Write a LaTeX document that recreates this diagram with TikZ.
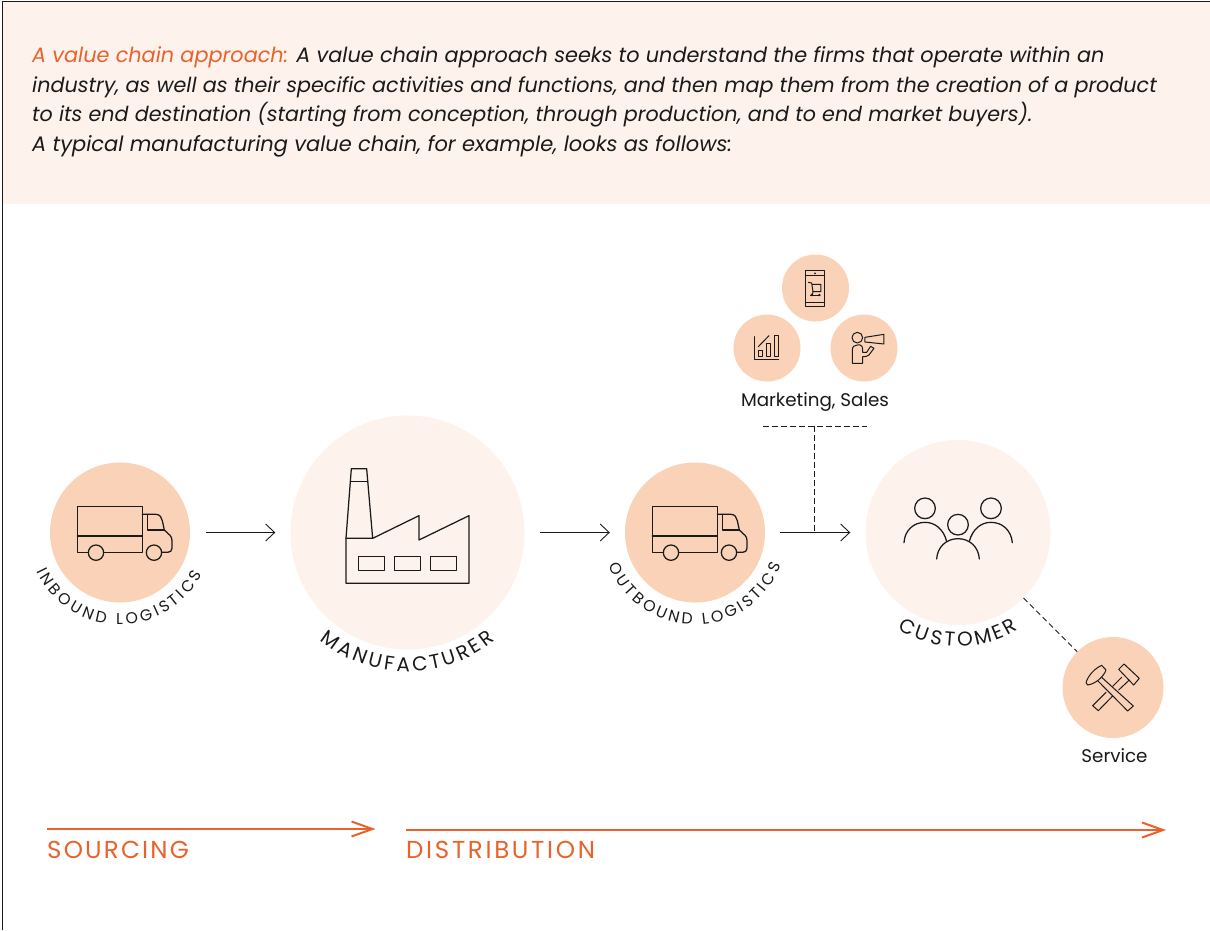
\documentclass[tikz,border=0pt]{standalone}
\usepackage{fontspec}
\setmainfont{Poppins}[Ligatures=NoCommon]
\usetikzlibrary{arrows.meta,decorations.text}
\definecolor{peach}{HTML}{F9D2B8}
\definecolor{pale}{HTML}{FDF2EC}
\definecolor{accent}{HTML}{E9622B}
\definecolor{ink}{HTML}{1A1A1A}
\newcommand{\curvelabel}[7]{%
  \path[decorate,decoration={text along path,text align={fit to path},text={|\fontsize{#6}{#6}\selectfont\color{ink}|#7}}]
    ({#1+#3*cos(#4)},{#2-#3*sin(#4)}) arc[start angle=#4,end angle=#5,radius=#3 pt];}
\tikzset{
  x=1pt,y=-1pt,
  bigdisc/.style={circle,fill=pale,draw=none,inner sep=0pt},
  smalldisc/.style={circle,fill=peach,draw=none,inner sep=0pt},
  icon/.style={draw=ink,line width=1.25pt,line join=round,line cap=round},
  thinicon/.style={draw=ink,line width=1pt,line join=round,line cap=round},
  flow/.style={draw=ink,line width=0.9pt,-{Straight Barb[length=9pt,width=17pt,line width=0.9pt]}},
  link/.style={draw=ink,line width=1pt,dash pattern=on 5.5pt off 3.5pt},
  bigflow/.style={draw=accent,line width=2pt,-{Straight Barb[length=21pt,width=15pt,line width=2pt]}},
  head/.style={anchor=base west,inner sep=0pt,text=ink},
  tag/.style={anchor=base,inner sep=0pt,font=\fontsize{18.3}{22}\selectfont,text=ink},
  phase/.style={anchor=base west,inner sep=0pt,text=accent},
  truckicon/.pic={
    \draw[icon] (175,307) -- (142,307) -- (142,170) -- (337,170) -- (337,307) -- (221,307);
    \draw[icon] (142,258) -- (337,258);
    \draw[icon] (198,308) circle[radius=23];
    \draw[icon] (372,308) circle[radius=23];
    \draw[icon] (337,193) -- (378,193) .. controls (390,193) and (395,203) .. (397,212) -- (403,240) -- (420,256) .. controls (424,260) and (426,265) .. (426,272) -- (426,295) .. controls (426,303) and (420,307) .. (413,307) -- (395,307);
    \draw[icon] (353,193) -- (353,240) -- (403,240);
  }
}
\begin{document}
\begin{tikzpicture}
\useasboundingbox (0,0) rectangle (1210,930);
\fill[white] (0,0) rectangle (1210,930);
\fill[pale] (3,2) rectangle (1210,204);
\draw[ink,line width=1pt] (2,930) -- (2,1) -- (1210,1);

% header
\node[head,font=\fontsize{20.82}{26}\selectfont\itshape] (l1) at (32,62.5) {\textcolor{accent}{A value chain approach:} A value chain approach seeks to understand the firms that operate within an};
\node[head,font=\fontsize{20.69}{26}\selectfont\itshape] (l2) at (32,92) {industry, as well as their specific activities and functions, and then map them from the creation of a product};
\node[head,font=\fontsize{20.67}{26}\selectfont\itshape] (l3) at (32,121.5) {to its end destination (starting from conception, through production, and to end market buyers).};
\node[head,font=\fontsize{21}{26}\selectfont\itshape] (l4) at (32,151) {A typical manufacturing value chain, for example, looks as follows:};

% discs
\node[smalldisc,minimum size=140pt] (inb) at (120,532.5) {};
\node[bigdisc,minimum size=234pt] (mfg) at (407.5,532.5) {};
\node[smalldisc,minimum size=140pt] (outb) at (695,532.5) {};
\node[bigdisc,minimum size=185pt] (cust) at (958,532.5) {};
\node[smalldisc,minimum size=67pt] (shop) at (815.5,288) {};
\node[smalldisc,minimum size=67pt] (chart) at (767,348) {};
\node[smalldisc,minimum size=67pt] (promo) at (864,348) {};
\node[smalldisc,minimum size=101pt] (serv) at (1113,687.5) {};

% connectors
\draw[flow,shorten <=16pt,shorten >=15pt] (inb) -- (mfg);
\draw[flow,shorten <=15pt,shorten >=15pt] (mfg) -- (outb);
\coordinate (jn) at (814.5,532.5);
\draw[flow,shorten <=15pt,shorten >=15pt] (outb) -- (cust);
\coordinate (ml) at (763,426);
\coordinate (mr) at (867,426);
\coordinate (mc) at (814.5,426);
\draw[link] (ml) -- (mr);
\draw[link] (mc) -- (jn);
\draw[link] (cust) -- (serv);

% trucks
\pic[shift={(30,450)},scale=0.3333] {truckicon};
\pic[shift={(605,450)},scale=0.3333] {truckicon};

% factory
\begin{scope}[shift={(290,450)},scale=0.3333]
\draw[icon] (168,265) -- (184,56) -- (230,56) -- (248,265);
\draw[icon] (182,95) -- (233,95);
\draw[icon] (168,265) -- (248,265) -- (387,197) -- (387,270) -- (537,197) -- (537,400) -- (168,400) -- cycle;
\draw[icon] (205,320) rectangle (283,362);
\draw[icon] (313,320) rectangle (392,362);
\draw[icon] (422,320) rectangle (500,362);
\end{scope}

% customers
\begin{scope}[shift={(880,480)},scale=0.3333]
\draw[icon] (135,85) circle[radius=31];
\draw[icon] (333,85) circle[radius=31];
\draw[icon] (234,134) circle[radius=31];
\draw[icon] (72,188) .. controls (74,152) and (100,127) .. (135,127) .. controls (165,127) and (190,147) .. (200,184);
\draw[icon] (268,184) .. controls (278,147) and (303,127) .. (333,127) .. controls (368,127) and (394,152) .. (397,188);
\draw[icon] (170,237) .. controls (172,201) and (199,176) .. (234,176) .. controls (269,176) and (296,201) .. (298,237);
\end{scope}

% marketing icons
\begin{scope}[shift={(720,245)},scale=0.3333]
\draw[thinicon] (256,77) rectangle (314,185);
\draw[thinicon] (256,92) -- (314,92);
\draw[thinicon] (256,173) -- (314,173);
\fill[ink] (285,85) circle[radius=3];
\draw[thinicon] (265,112) -- (275,114) -- (279,140) -- (303,140) -- (303,118) -- (276,118);
\draw[thinicon] (279,140) -- (277,150);
\fill[ink] (275,150) circle[radius=4];
\fill[ink] (298,150) circle[radius=4];
\draw[thinicon] (272,150) -- (300,150);
\draw[thinicon] (103,275) -- (103,345) -- (176,345);
\draw[thinicon] (115,318) rectangle (127,335);
\draw[thinicon] (140,295) rectangle (152,335);
\draw[thinicon] (164,273) rectangle (176,335);
\draw[thinicon] (115,305) -- (147,272);
\draw[thinicon] (412,278) circle[radius=16];
\draw[thinicon] (428,355) -- (397,355) -- (397,315) .. controls (397,305) and (403,300) .. (412,300) -- (420,300) .. controls (425,300) and (428,306) .. (428,312) -- (428,322) -- (440,322) -- (452,304) -- (462,310) -- (447,330) .. controls (442,335) and (435,335) .. (428,335) -- cycle;
\draw[thinicon] (435,277) -- (492,268) -- (492,297) -- (435,291) -- cycle;
\end{scope}

% hammers
\begin{scope}[shift={(1020,590)},scale=0.3333]
\draw[thinicon] (245,262) -- (340,348) -- (323,363) -- (233,272);
\draw[thinicon] (198,278) .. controls (205,255) and (225,235) .. (245,226) -- (258,240) .. controls (250,262) and (225,282) .. (203,285) -- cycle;
\draw[thinicon] (305,262) -- (278,289);
\draw[thinicon] (258,307) -- (218,347) -- (235,362) -- (278,318);
\draw[thinicon] (296,300) -- (328,270);
\draw[thinicon] (296,238) -- (312,222) -- (358,265) -- (341,285) -- cycle;
\end{scope}

% curved labels
\curvelabel{120}{532.5}{92}{205}{333}{15.8}{INBOUND LOGISTICS}
\curvelabel{407.5}{532.5}{139}{231}{309}{20}{MANUFACTURER}
\curvelabel{695}{532.5}{92}{201}{339}{15.8}{OUTBOUND LOGISTICS}
\curvelabel{958}{532.5}{114}{238}{302}{20}{CUSTOMER}

% tags
\node[tag] (mtag) at (815,406) {Marketing, Sales};
\node[tag] (stag) at (1114.5,762) {Service};

% phases
\coordinate (sa) at (47,829);
\coordinate (sb) at (375.5,829);
\coordinate (da) at (406,830);
\coordinate (db) at (1166,830);
\draw[bigflow] (sa) -- (sb);
\draw[bigflow] (da) -- (db);
\node[phase,font=\fontsize{24.5}{28}\selectfont\addfontfeature{LetterSpace=9}] (sl) at (47,858) {SOURCING};
\node[phase,font=\fontsize{24.5}{28}\selectfont\addfontfeature{LetterSpace=11}] (dl) at (406,858) {DISTRIBUTION};
\end{tikzpicture}
\end{document}
